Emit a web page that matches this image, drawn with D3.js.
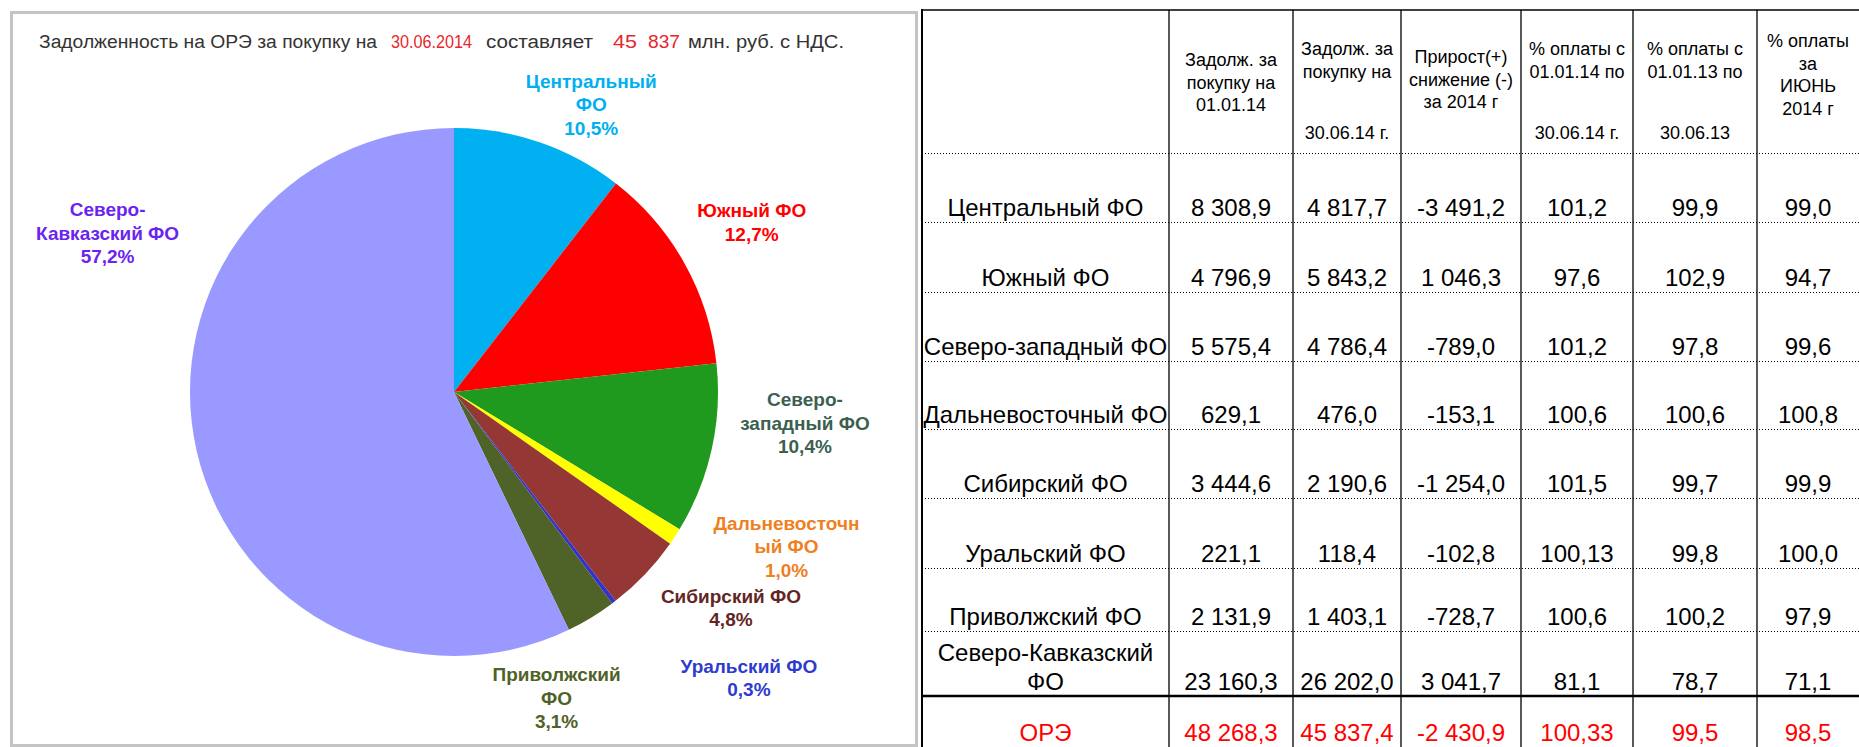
<!DOCTYPE html>
<html lang="ru">
<head>
<meta charset="utf-8">
<script src="https://cdn.jsdelivr.net/npm/d3@7"></script>
<style>
  body { margin: 0; background: #fff; }
  svg { display: block; font-family: "Liberation Sans", Arial, sans-serif; }
</style>
</head>
<body>
<div id="chart"></div>
<script>
// Federal districts, in pie and table order
const districts = ["Центральный ФО", "Южный ФО", "Северо-западный ФО", "Дальневосточный ФО",
  "Сибирский ФО", "Уральский ФО", "Приволжский ФО", "Северо-Кавказский ФО"];
const pieLabels = [["Центральный", "ФО"], ["Южный ФО"], ["Северо-", "западный ФО"], ["Дальневосточн", "ый ФО"],
  ["Сибирский ФО"], ["Уральский ФО"], ["Приволжский", "ФО"], ["Северо-", "Кавказский ФО"]];

// Table columns (млн. руб. / %)
const debtStart = [8308.9, 4796.9, 5575.4, 629.1, 3444.6, 221.1, 2131.9, 23160.3];
const debtEnd = [4817.7, 5843.2, 4786.4, 476.0, 2190.6, 118.4, 1403.1, 26202.0];
const debtChange = [-3491.2, 1046.3, -789.0, -153.1, -1254.0, -102.8, -728.7, 3041.7];
const pay2014 = [101.2, 97.6, 101.2, 100.6, 101.5, 100.13, 100.6, 81.1];
const pay2013 = [99.9, 102.9, 97.8, 100.6, 99.7, 99.8, 100.2, 78.7];
const payJune = [99.0, 94.7, 99.6, 100.8, 99.9, 100.0, 97.9, 71.1];
const totalLabel = "ОРЭ";
const totals = [48268.3, 45837.4, -2430.9, 100.33, 99.5, 98.5];

// Header cells: upper block and a bottom line
const headerTop = [["Задолж. за", "покупку на", "01.01.14"], ["Задолж. за", "покупку на"],
  ["Прирост(+)", "снижение (-)", "за 2014 г"], ["% оплаты с", "01.01.14 по"], ["% оплаты с", "01.01.13 по"],
  ["% оплаты", "за", "ИЮНЬ", "2014 г"]];
const headerBottom = ["", "30.06.14 г.", "", "30.06.14 г.", "30.06.13", ""];

// Title pieces
const titleParts = [
  { text: "Задолженность на ОРЭ за покупку на", red: false },
  { text: "30.06.2014", red: true },
  { text: "составляет", red: false },
  { text: "45", red: true },
  { text: "837", red: true },
  { text: "млн. руб. с НДС.", red: false }
];

// Styles / layout
const sliceColors = ["#00B0F0", "#FF0000", "#1F9A1F", "#FFFF00", "#953735", "#3333CC", "#4F6228", "#9999FF"];
const labelColors = ["#00B0F0", "#FF0000", "#3B6050", "#F07F1F", "#632523", "#2E3BD0", "#4F6228", "#6B24F0"];
const labelNudge = [[27, 34], [1, -4], [19, -43], [48, -32], [31, -19], [89, 15], [-74, 15], [-15, -235]];
const titleX = [39, 391, 486, 613, 648, 688];
const titleW = [338, 81, 107, 24, 32, 156];
const colEdges = [922, 1169, 1293, 1401, 1521, 1633, 1757, 1859];
const rowLines = [153, 222, 292, 361, 429, 498, 568, 631, 696];
const headerFirstBase = [66, 55, 63, 55, 55, 47];

const W = 1859, H = 747;
const svg = d3.select("#chart").append("svg").attr("width", W).attr("height", H);

// ---------- left panel: pie ----------
svg.append("rect")
  .attr("x", 11.5).attr("y", 12.5).attr("width", 905).attr("height", 733)
  .attr("fill", "#fff").attr("stroke", "#C4C4C4").attr("stroke-width", 3);

const title = svg.append("g").attr("font-size", 18);
titleParts.forEach((p, i) => {
  title.append("text")
    .attr("x", titleX[i]).attr("y", 48)
    .attr("textLength", titleW[i]).attr("lengthAdjust", "spacingAndGlyphs")
    .attr("fill", p.red ? "#E8262C" : "#333")
    .text(p.text);
});

const cx = 454, cy = 392, r = 264;
const arcs = d3.pie().sort(null).value(d => d)(debtEnd);
const arc = d3.arc().innerRadius(0).outerRadius(r);
const outer = d3.arc().innerRadius(340).outerRadius(340);
const total = d3.sum(debtEnd);
const pct = v => d3.format(".1f")(v / total * 100).replace(".", ",") + "%";

const pieG = svg.append("g").attr("transform", `translate(${cx},${cy})`);
pieG.selectAll("path").data(arcs).join("path")
  .attr("d", arc)
  .attr("fill", (d, i) => sliceColors[i]);

const lh = 23.5;
pieG.selectAll("text.lbl").data(arcs).join("text")
  .attr("class", "lbl")
  .attr("font-size", 19).attr("font-weight", "bold")
  .attr("text-anchor", "middle")
  .attr("fill", (d, i) => labelColors[i])
  .each(function (d, i) {
    const [x, y] = outer.centroid(d);
    const px = x + labelNudge[i][0], py = y + labelNudge[i][1];
    const lines = pieLabels[i].concat(pct(d.value));
    const y0 = py - (lines.length - 1) / 2 * lh + 7;
    d3.select(this).selectAll("tspan").data(lines).join("tspan")
      .attr("x", px).attr("y", (t, k) => y0 + k * lh)
      .text(t => t);
  });

// ---------- right: table ----------
const fmtLocale = d3.formatLocale({ decimal: ",", thousands: "\u00a0", grouping: [3], currency: ["", ""] });
const f1 = fmtLocale.format(",.1f");
const f2 = fmtLocale.format(",.2f");
const fmt = v => (Math.abs(Math.round(v * 10) - v * 10) > 1e-6 ? f2(v) : f1(v)).replace("−", "-");

const table = svg.append("g");
const colMid = i => (colEdges[i] + colEdges[i + 1]) / 2;

// grid
table.append("line").attr("x1", 921).attr("x2", W).attr("y1", 10).attr("y2", 10)
  .attr("stroke", "#404040").attr("stroke-width", 2);
table.append("line").attr("x1", 922).attr("x2", 922).attr("y1", 9).attr("y2", H)
  .attr("stroke", "#000").attr("stroke-width", 2);
table.selectAll("line.col").data(colEdges.slice(1, -1)).join("line")
  .attr("class", "col")
  .attr("x1", d => d).attr("x2", d => d).attr("y1", 10).attr("y2", H)
  .attr("stroke", "#000").attr("stroke-width", 1.3);
table.selectAll("line.row").data(rowLines.slice(0, -1)).join("line")
  .attr("class", "row")
  .attr("x1", 922).attr("x2", W).attr("y1", d => d + 0.5).attr("y2", d => d + 0.5)
  .attr("stroke", "#000").attr("stroke-width", 1).attr("stroke-dasharray", "1,2");
table.append("line").attr("x1", 921).attr("x2", W)
  .attr("y1", rowLines[rowLines.length - 1]).attr("y2", rowLines[rowLines.length - 1])
  .attr("stroke", "#000").attr("stroke-width", 2.5);

// header
headerTop.forEach((lines, i) => {
  const t = table.append("text").attr("font-size", 18).attr("text-anchor", "middle").attr("fill", "#000");
  lines.forEach((s, k) => t.append("tspan").attr("x", colMid(i + 1)).attr("y", headerFirstBase[i] + k * 22.5).text(s));
  if (headerBottom[i]) {
    table.append("text").attr("font-size", 18).attr("text-anchor", "middle")
      .attr("x", colMid(i + 1)).attr("y", 139).text(headerBottom[i]);
  }
});

// body rows
const rows = districts.map((name, i) => [debtStart[i], debtEnd[i], debtChange[i], pay2014[i], pay2013[i], payJune[i]]);
rows.forEach((vals, i) => {
  const base = rowLines[i + 1] - 6;
  const g = table.append("g").attr("font-size", 24).attr("text-anchor", "middle").attr("fill", "#000");
  if (i === districts.length - 1) {
    const parts = ["Северо-Кавказский", "ФО"];
    parts.forEach((p, k) => g.append("text").attr("x", colMid(0)).attr("y", base - 29 + k * 29).text(p));
  } else {
    g.append("text").attr("x", colMid(0)).attr("y", base).text(districts[i]);
  }
  vals.forEach((v, j) => g.append("text").attr("x", colMid(j + 1)).attr("y", base).text(fmt(v)));
});

// total row
const tg = table.append("g").attr("font-size", 24).attr("text-anchor", "middle").attr("fill", "#FF0000");
tg.append("text").attr("x", colMid(0)).attr("y", 741).text(totalLabel);
totals.forEach((v, j) => tg.append("text").attr("x", colMid(j + 1)).attr("y", 741).text(fmt(v)));
</script>
</body>
</html>
